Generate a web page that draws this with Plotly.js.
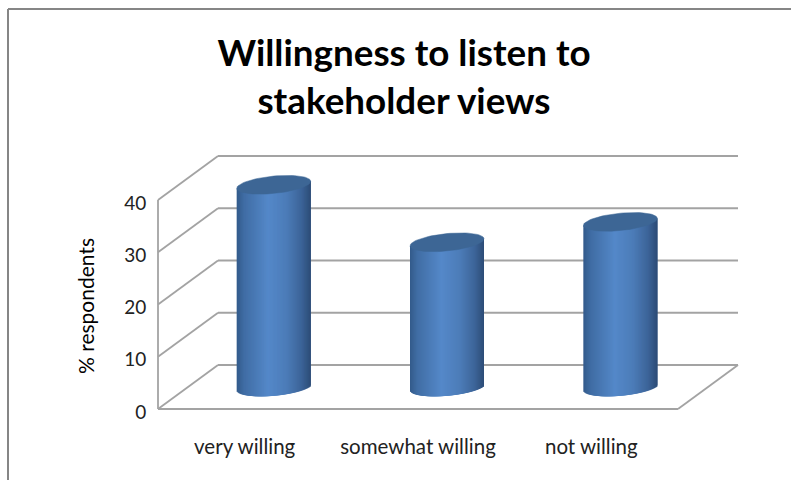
<!DOCTYPE html>
<html><head><meta charset="utf-8">
<script src="https://cdn.plot.ly/plotly-3.0.1.min.js"></script>
<style>html,body{margin:0;padding:0;background:#fff}#c{width:791px;height:480px}</style>
</head><body><div id="c"></div>
<script>
const categories = ["very willing", "somewhat willing", "not willing"];
const values = [38.7, 27.7, 31.6];
const gridValues = [0, 10, 20, 30, 40];
const titleText = "Willingness to listen to<br>stakeholder views";
const yTitle = "% respondents";

// plot geometry
const W = 791, H = 480;
const axisX = 158, axisY = 409;
const L = 153, R = 760, T = 130, B = 414;
const pxPerCat = 173.33, pxPerUnit = 5.225;
const xStart = -0.5;
const xMin = xStart - (axisX - L) / pxPerCat, xMax = xStart + (R - axisX) / pxPerCat;
const xBack = xStart + (738 - axisX) / pxPerCat;
const yMin = -(B - axisY) / pxPerUnit, yMax = (axisY - T) / pxPerUnit;
const depthX = 60 / pxPerCat, depthY = 44 / pxPerUnit;   // full floor depth
const gridColor = "#a3a3a3", frameColor = "#868686";

const gridShapes = [];
function addSeg(x0, y0, x1, y1) {
  gridShapes.push({type: "line", xref: "x", yref: "y", layer: "below", x0, y0, x1, y1,
    line: {color: gridColor, width: 1.8}});
}
const xFrontEnd = xStart + 3;
gridValues.forEach(v => {
  addSeg(xStart, v, xStart + depthX, v + depthY);
  addSeg(xStart + depthX, v + depthY, xBack, v + depthY);
});
addSeg(xStart, 0, xStart, 40);
addSeg(xStart, 0, xFrontEnd, 0);
addSeg(xFrontEnd, 0, xBack, depthY);

// cylinders: gradient body from overlapping slices, then the top cap
const traces = [];
const halfW = 37 / pxPerCat, capB = 8.7 / pxPerUnit, tilt = 3.5 / pxPerUnit;
const centreShift = 29 / pxPerCat, baseLift = 0.5 * depthY;
const stops = [[-1, [50, 90, 138]], [-0.8, [64, 109, 164]], [-0.15, [84, 136, 201]], [0.35, [76, 124, 184]], [0.75, [60, 100, 152]], [1, [44, 76, 118]]];
function shade(t) {
  for (let i = 1; i < stops.length; i++) {
    if (t <= stops[i][0]) {
      const a = stops[i - 1], b = stops[i], f = (t - a[0]) / (b[0] - a[0]);
      return "rgb(" + a[1].map((c, k) => Math.round(c + (b[1][k] - c) * f)).join(",") + ")";
    }
  }
  return "rgb(44,76,118)";
}
const N = 74;
const sliceW = 2 * halfW / N;
values.forEach((val, i) => {
  const xs = [], bases = [], hs = [], cols = [], ws = [];
  for (let s = 0; s < N; s++) {
    const t = -1 + 2 * (s + 0.5) / N;
    const low = baseLift + tilt * t - capB * Math.sqrt(1 - t * t);
    const top = baseLift + val + tilt * t;
    const span = Math.min(3, N - s);              // overlap the next slices so no white shows
    xs.push(i + centreShift - halfW + sliceW * (s + span / 2));
    ws.push(sliceW * span);
    bases.push(low);
    hs.push(top - low);
    cols.push(shade(t));
  }
  traces.push({type: "bar", x: xs, y: hs, base: bases, width: ws, cliponaxis: false,
    marker: {color: cols, opacity: 1, line: {width: 0}}, hoverinfo: "skip", showlegend: false});
  const cx = [], cy = [];
  for (let a = 0; a <= 72; a++) {
    const th = a / 72 * 2 * Math.PI, t = Math.cos(th);
    cx.push(i + centreShift + t * halfW);
    cy.push(baseLift + val + tilt * t + capB * Math.sin(th));
  }
  traces.push({type: "scatter", mode: "lines", x: cx, y: cy, fill: "toself", fillcolor: "#3d6695",
    line: {color: "#3d6695", width: 0.5}, cliponaxis: false, hoverinfo: "skip", showlegend: false});
});

const px = v => (v - L) / (R - L), py = v => (B - v) / (B - T);
const layout = {
  width: W, height: H, autosize: false,
  paper_bgcolor: "#fff", plot_bgcolor: "rgba(0,0,0,0)",
  margin: {l: L, r: W - R, t: T, b: H - B, pad: 0},
  barmode: "overlay", showlegend: false,
  font: {family: "Lato, sans-serif", color: "#222"},
  title: {text: titleText, font: {family: "Lato, sans-serif", size: 36.8, color: "#000", weight: 700},
    x: 404 / W, xanchor: "center", xref: "container", y: 1 - 66 / H, yref: "container", yanchor: "top"},
  xaxis: {range: [xMin, xMax], tickmode: "array", tickvals: [0, 1, 2], ticktext: categories,
    showgrid: false, zeroline: false, showline: false, ticks: "outside", ticklen: 14, tickcolor: "rgba(0,0,0,0)",
    tickfont: {size: 20.5, color: "#222"}},
  yaxis: {range: [yMin, yMax], tickmode: "array", tickvals: gridValues, ticktext: gridValues.map(String),
    showgrid: false, zeroline: false, showline: false, ticks: "outside", ticklen: 2, tickcolor: "rgba(0,0,0,0)",
    ticklabelshift: 3, tickfont: {size: 19, color: "#222"}},
  annotations: [{text: yTitle, textangle: -90, xref: "paper", yref: "paper", x: px(85), y: py(306),
    xanchor: "center", yanchor: "middle", showarrow: false, font: {size: 21, color: "#000"}}],
  shapes: gridShapes.concat([
    {type: "line", xref: "paper", yref: "paper", x0: px(8), x1: px(791), y0: py(9), y1: py(9), line: {color: frameColor, width: 2}},
    {type: "line", xref: "paper", yref: "paper", x0: px(8), x1: px(8), y0: py(9), y1: py(480), line: {color: frameColor, width: 2}}
  ])
};
Plotly.newPlot("c", traces, layout, {displayModeBar: false, staticPlot: true});
</script></body></html>
